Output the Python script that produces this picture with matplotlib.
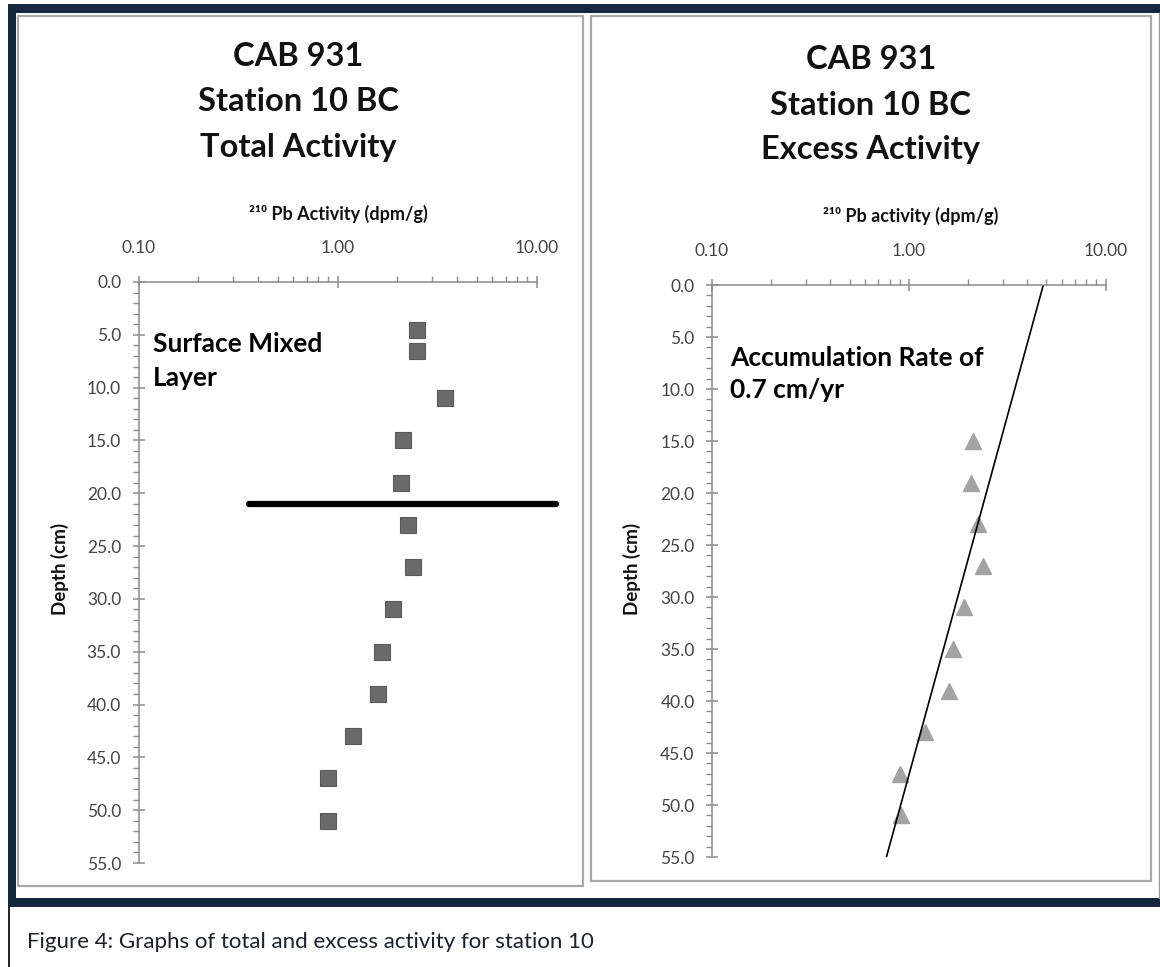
import numpy as np
import matplotlib.pyplot as plt
from matplotlib.patches import Rectangle
from matplotlib.lines import Line2D
from matplotlib.ticker import LogLocator, MultipleLocator, NullFormatter

plt.rcParams['font.family'] = ['Lato', 'DejaVu Sans']

# 210Pb total activity profile (dpm/g) vs depth (cm)
total_depth = [4.5, 6.5, 11, 15, 19, 23, 27, 31, 35, 39, 43, 47, 51]
total_activity = [2.50, 2.52, 3.47, 2.13, 2.08, 2.26, 2.39, 1.89, 1.67, 1.60, 1.20, 0.90, 0.90]

# excess activity below the mixed layer
excess_depth = [15, 19, 23, 27, 31, 35, 39, 43, 47, 51]
excess_activity = [2.13, 2.08, 2.26, 2.39, 1.90, 1.67, 1.61, 1.21, 0.90, 0.91]

# exponential fit (straight on the log axis), end points
fit_depth = [0, 55]
fit_activity = [4.83, 0.77]

# base of the surface mixed layer
mixed_layer_depth = 21
mixed_layer_span = [0.36, 12.5]

x_ticks = [0.1, 1, 10]
x_tick_labels = ['0.10', '1.00', '10.00']
depth_ticks = np.arange(0, 56, 5)
depth_tick_labels = [f'{d:.1f}' for d in depth_ticks]

W, H = 1160, 967
fig = plt.figure(figsize=(W / 100, H / 100), dpi=100)


def fx(px):
    return px / W


def fy(py):
    return 1 - py / H


def rect(x0, y0, x1, y1, **kw):
    fig.add_artist(Rectangle((fx(x0), fy(y1)), fx(x1) - fx(x0), fy(y0) - fy(y1),
                             transform=fig.transFigure, **kw))


# page frame
navy = '#16283f'
rect(8, 4, W + 2, 907, facecolor=navy, edgecolor='none', zorder=-3)
rect(16, 13, W + 2, 898, facecolor='white', edgecolor='none', zorder=-2.5)
fig.add_artist(Line2D([fx(8.5), fx(8.5)], [fy(907), 0], color='black', lw=1.2,
                      transform=fig.transFigure, zorder=-2))
fig.add_artist(Line2D([fx(1158.5), fx(1158.5)], [fy(13), fy(898)], color='#9a9a9a', lw=1,
                      transform=fig.transFigure, zorder=-2))
rect(18, 16, 583, 886, facecolor='white', edgecolor='#a8a8a8', lw=1.6, zorder=-2)
rect(591, 16, 1151, 881, facecolor='white', edgecolor='#a8a8a8', lw=1.6, zorder=-2)

axis_grey = '#8c8c8c'


def setup_axes(ax):
    ax.set_xscale('log')
    ax.set_xlim(0.1, 10)
    ax.set_ylim(55, 0)
    ax.xaxis.tick_top()
    ax.set_xticks(x_ticks)
    ax.set_xticklabels(x_tick_labels)
    ax.xaxis.set_minor_locator(LogLocator(base=10, subs=range(2, 10)))
    ax.xaxis.set_minor_formatter(NullFormatter())
    ax.set_yticks(depth_ticks)
    ax.set_yticklabels(depth_tick_labels)
    ax.yaxis.set_minor_locator(MultipleLocator(1))
    for s in ['right', 'bottom']:
        ax.spines[s].set_visible(False)
    for s in ['top', 'left']:
        ax.spines[s].set_color(axis_grey)
        ax.spines[s].set_linewidth(1.1)
    ax.tick_params(which='major', direction='inout', length=9, width=1.1,
                   color=axis_grey, labelsize=12.5, labelcolor='#444444')
    ax.tick_params(which='minor', direction='out', length=4, width=1, color=axis_grey)
    ax.tick_params(axis='x', which='major', pad=14)
    ax.tick_params(axis='y', which='major', pad=8)
    ax.patch.set_alpha(0)


# total activity panel
ax1 = fig.add_axes([fx(138.5), fy(863), fx(536.5) - fx(138.5), fy(282) - fy(863)])
setup_axes(ax1)
ax1.plot(total_activity, total_depth, 's', ms=11, color='#6a6a6a', mec='#5a5a5a', mew=0.8)
ax1.plot(mixed_layer_span, [mixed_layer_depth] * 2, color='black', lw=4.5,
         solid_capstyle='round', clip_on=False)

# excess activity panel
ax2 = fig.add_axes([fx(712), fy(857), fx(1105.5) - fx(712), fy(285) - fy(857)])
setup_axes(ax2)
ax2.plot(excess_activity, excess_depth, '^', ms=12, color='#a3a3a3', mec='#a3a3a3')
ax2.plot(fit_activity, fit_depth, color='black', lw=1.2)

title_kw = dict(ha='center', va='baseline', fontsize=23.5, fontweight='bold', color='#111111')
for txt, y in [('CAB 931', 66), ('Station 10 BC', 111), ('Total Activity', 157)]:
    fig.text(fx(298.5), fy(y), txt, **title_kw)
for txt, y in [('CAB 931', 69), ('Station 10 BC', 115), ('Excess Activity', 159)]:
    fig.text(fx(871), fy(y), txt, **title_kw)

label_kw = dict(ha='center', va='center', fontsize=13, fontweight='bold', color='#111111')
fig.text(fx(338), fy(214), '²¹⁰ Pb Activity (dpm/g)', **label_kw)
fig.text(fx(911), fy(216), '²¹⁰ Pb activity (dpm/g)', **label_kw)
fig.text(fx(60), fy(569), 'Depth (cm)', rotation=90, **dict(label_kw, fontsize=13.5))
fig.text(fx(632), fy(569), 'Depth (cm)', rotation=90, **dict(label_kw, fontsize=13.5))

note_kw = dict(ha='left', va='baseline', fontsize=19, fontweight='bold', color='black')
fig.text(fx(153), fy(352), 'Surface Mixed', **note_kw)
fig.text(fx(153), fy(386), 'Layer', **note_kw)
fig.text(fx(730), fy(366), 'Accumulation Rate of', **note_kw)
fig.text(fx(730), fy(398), '0.7 cm/yr', **note_kw)

fig.text(fx(27), fy(948), 'Figure 4: Graphs of total and excess activity for station 10',
         ha='left', va='baseline', fontsize=16, color='#1b1f2e')

fig.savefig('out.png', dpi=100)
